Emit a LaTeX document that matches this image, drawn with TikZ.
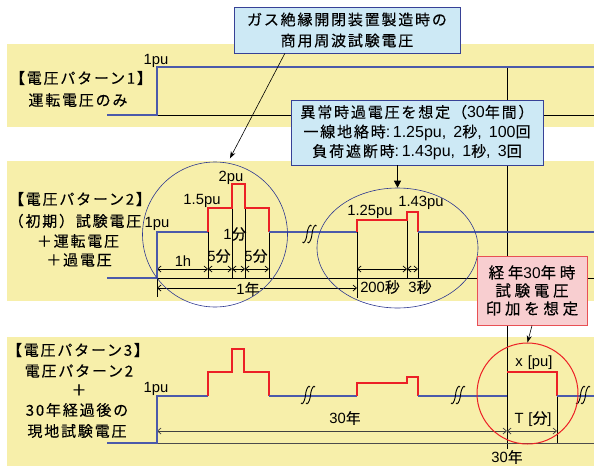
\documentclass[tikz,border=0pt]{standalone}
\usepackage{fontspec}
\setmainfont{Liberation Sans}
\newfontfamily\jp[FakeBold=0.3]{Noto Sans CJK JP}
\newfontfamily\jpw[LetterSpace=12,FakeBold=0.3]{Noto Sans CJK JP}
\newfontfamily\jpb[LetterSpace=12,Scale=0.94,FakeBold=0.3]{Noto Sans CJK JP}
\newfontfamily\jpp[LetterSpace=24,FakeBold=0.3]{Noto Sans CJK JP}
\usetikzlibrary{arrows.meta,shapes.geometric,calc}
\definecolor{band}{RGB}{247,239,170}
\definecolor{boxblue}{RGB}{205,233,245}
\definecolor{boxedge}{RGB}{55,65,150}
\definecolor{sig}{RGB}{75,90,170}
\definecolor{sred}{RGB}{236,32,38}
\definecolor{pinkfill}{RGB}{248,206,208}
\definecolor{pinkedge}{RGB}{232,80,84}
\definecolor{navy}{RGB}{45,55,145}
\tikzset{
  bluesig/.style={sig, line width=1.2pt},
  redsig/.style={sred, line width=1.2pt},
  extline/.style={black, line width=0.8pt},
  dimarr/.style={black, line width=0.7pt, {Straight Barb[length=3.5pt,width=6pt]}-{Straight Barb[length=3.5pt,width=6pt]}},
  leftlbl/.style={font=\fontsize{15}{18}\selectfont\jpw, inner sep=0},
  numlbl/.style={font=\fontsize{14.8}{17}\selectfont, inner sep=0},
  infobox/.style={draw=boxedge, fill=boxblue, line width=0.9pt, align=center, inner sep=0},
  brkmark/.pic={
    \draw[black, line width=0.9pt] (-7,8) .. controls (-6,10) and (-3.5,8) .. (-2.5,0) .. controls (-1.5,-8) and (1,-10) .. (2,-8);
    \draw[black, line width=0.9pt] (-2,8) .. controls (-1,10) and (1.5,8) .. (2.5,0) .. controls (3.5,-8) and (6,-10) .. (7,-8);
  }
}
\begin{document}
\begin{tikzpicture}[x=1pt,y=-1pt]
\useasboundingbox (0,0) rectangle (594,466);
% bands
\fill[band] (7,44) rectangle (594,127);
\fill[band] (7,161) rectangle (594,301);
\fill[band] (7,337) rectangle (594,466);

% long 30-year line
\draw[black, line width=0.9pt] (507,67) -- (507,449);

% ---------- pattern 1
\draw[extline] (157,115) -- (594,115);
\draw[bluesig] (107,115) -- (157,115) -- (157,67) -- (594,67);
\node[numlbl] (p1pu) at (156,61) {1pu};
\node[leftlbl] (p1a) at (81,78) {【電圧パターン1】};
\node[leftlbl] (p1b) at (78,100) {運転電圧のみ};

% ---------- pattern 2
\draw[extline] (157,278) -- (594,278);
\draw[extline] (157,278) -- (157,297);
\draw[extline] (208,232) -- (208,278);
\draw[extline] (232,208) -- (232,278);
\draw[extline] (245,208) -- (245,278);
\draw[extline] (269,232) -- (269,278);
\draw[extline] (357,232) -- (357,298);
\draw[extline] (407,220) -- (407,278);
\draw[extline] (418,232) -- (418,278);
\draw[dimarr] (157,269) -- (208,269);
\draw[dimarr] (208,269) -- (232,269);
\draw[dimarr] (232,269) -- (245,269);
\draw[dimarr] (245,269) -- (269,269);
\draw[dimarr] (157,288) -- (357,288);
\draw[dimarr] (357,269) -- (407,269);
\draw[dimarr] (407,269) -- (418,269);
\draw[bluesig] (107,278) -- (157,278) -- (157,232) -- (208,232);
\draw[redsig] (208,232) -- (208,208) -- (232,208) -- (232,184) -- (245,184) -- (245,208) -- (269,208) -- (269,232);
\draw[bluesig] (269,232) -- (357,232);
\draw[redsig] (357,232) -- (357,220) -- (407,220) -- (407,212) -- (418,212) -- (418,232);
\draw[bluesig] (418,232) -- (594,232);
\pic at (309.5,234) {brkmark};
\node[numlbl] (p2pu) at (157,224) {1pu};
\node[numlbl] (p2pu15) at (202,201) {1.5pu};
\node[numlbl] (p2pu2) at (231,178) {2pu};
\node[numlbl] (p2h) at (183,261) {1h};
\node[numlbl] (p2m1) at (219,256) {5{\jp 分}};
\node[numlbl] (p2m2) at (235,234) {1{\jp 分}};
\node[numlbl] (p2m3) at (256,256) {5{\jp 分}};
\node[numlbl, fill=band, inner sep=0.5pt] (p2y) at (248,289) {1{\jp 年}};
\node[numlbl] (p2pu125) at (370,212) {1.25pu};
\node[numlbl] (p2pu143) at (421,203) {1.43pu};
\node[numlbl] (p2s200) at (380,287) {200{\jpw 秒}};
\node[numlbl] (p2s3) at (420,287) {3{\jp 秒}};
\node[leftlbl] (p2a) at (80,199) {【電圧パターン2】};
\node[leftlbl] (p2b) at (75,221) {（初期）試験電圧};
\node[leftlbl] (p2c) at (78,241) {＋運転電圧};
\node[leftlbl] (p2d) at (79,260) {＋過電圧};
\node[circle, draw=navy, line width=0.6pt, minimum size=145pt, inner sep=0] (c1) at (215,234.5) {};
\node[ellipse, draw=navy, line width=0.6pt, minimum width=161pt, minimum height=120pt, inner sep=0] (e2) at (397.5,248) {};

% ---------- pattern 3
\draw[black!70, line width=0.8pt] (157,443) -- (594,443);
\draw[extline] (557,372) -- (557,443);
\draw[dimarr, black!75] (157,431) -- (507,431);
\draw[dimarr, black!75] (507,431) -- (557,431);
\draw[bluesig] (107,443) -- (157,443) -- (157,396) -- (208,396);
\draw[redsig] (208,396) -- (208,372) -- (232,372) -- (232,349) -- (244,349) -- (244,372) -- (269,372) -- (269,396);
\draw[bluesig] (269,396) -- (357,396);
\draw[redsig] (357,396) -- (357,383) -- (407,383) -- (407,377) -- (418,377) -- (418,396);
\draw[bluesig] (418,396) -- (507,396);
\draw[redsig] (507,372) -- (557,372) -- (557,396);
\draw[bluesig] (557,396) -- (594,396);
\pic at (308,395) {brkmark};
\pic at (458,395) {brkmark};
\pic at (583,395) {brkmark};
\node[numlbl] (p3pu) at (156,389) {1pu};
\node[numlbl] (p3y30) at (345,418) {30{\jp 年}};
\node[numlbl] (p3T) at (533,419) {T\,\,[{\jp 分}]};
\node[numlbl] (p3x) at (534,363) {x\,\,[pu]};
\node[numlbl] (p3y30b) at (507,457) {30{\jp 年}};
\node[leftlbl] (p3a) at (78,350) {【電圧パターン3】};
\node[leftlbl] (p3b) at (79,371) {電圧パターン2};
\node[leftlbl] (p3c) at (79,390) {＋};
\node[leftlbl] (p3d) at (77,410) {30年経過後の};
\node[leftlbl] (p3e) at (77,431) {現地試験電圧};
\node[circle, draw=sred, line width=1pt, minimum size=101pt, inner sep=0] (c3) at (527.5,393.5) {};

% ---------- boxes
\node[infobox, minimum width=226pt, minimum height=46pt, font=\fontsize{15}{21}\selectfont] (box1) at (347,30)
  {{\jpw ガス絶縁開閉装置製造時の}\\{\jpw 商用周波試験電圧}};
\node[infobox, minimum width=252pt, minimum height=65pt, font=\fontsize{16}{19.5}\selectfont] (box2) at (417,132.5)
  {{\jpb 異常時過電圧を想定（}30{\jpb 年間）}\\{\jpb 一線地絡時}:\,1.25pu,\, 2{\jpb 秒},\, 100{\jpb 回}\\{\jpb 負荷遮断時}:\,1.43pu,\, 1{\jpb 秒},\, 3{\jpb 回}};
\node[draw=pinkedge, fill=pinkfill, line width=1pt, align=center, inner sep=0, minimum width=110pt, minimum height=69pt, font=\fontsize{15.5}{18}\selectfont] (pink) at (532,290.5)
  {{\jpp 経年}30{\jpp 年時}\\{\jpp 試験電圧}\\{\jpp 印加を想定}};

% ---------- arrows
\draw[line width=0.6pt, -{Stealth[length=7pt,width=5pt]}, shorten >=5pt] ($(box1.south west)!0.226!(box1.south east)$) -- (c1.80);
\draw[line width=0.7pt, -{Triangle[length=7pt,width=7pt]}] (e2.north |- box2.south) -- (e2.north);
\draw[line width=0.6pt, -{Stealth[length=7pt,width=5pt]}] (pink.south) -- (c3.north);
\end{tikzpicture}
\end{document}
